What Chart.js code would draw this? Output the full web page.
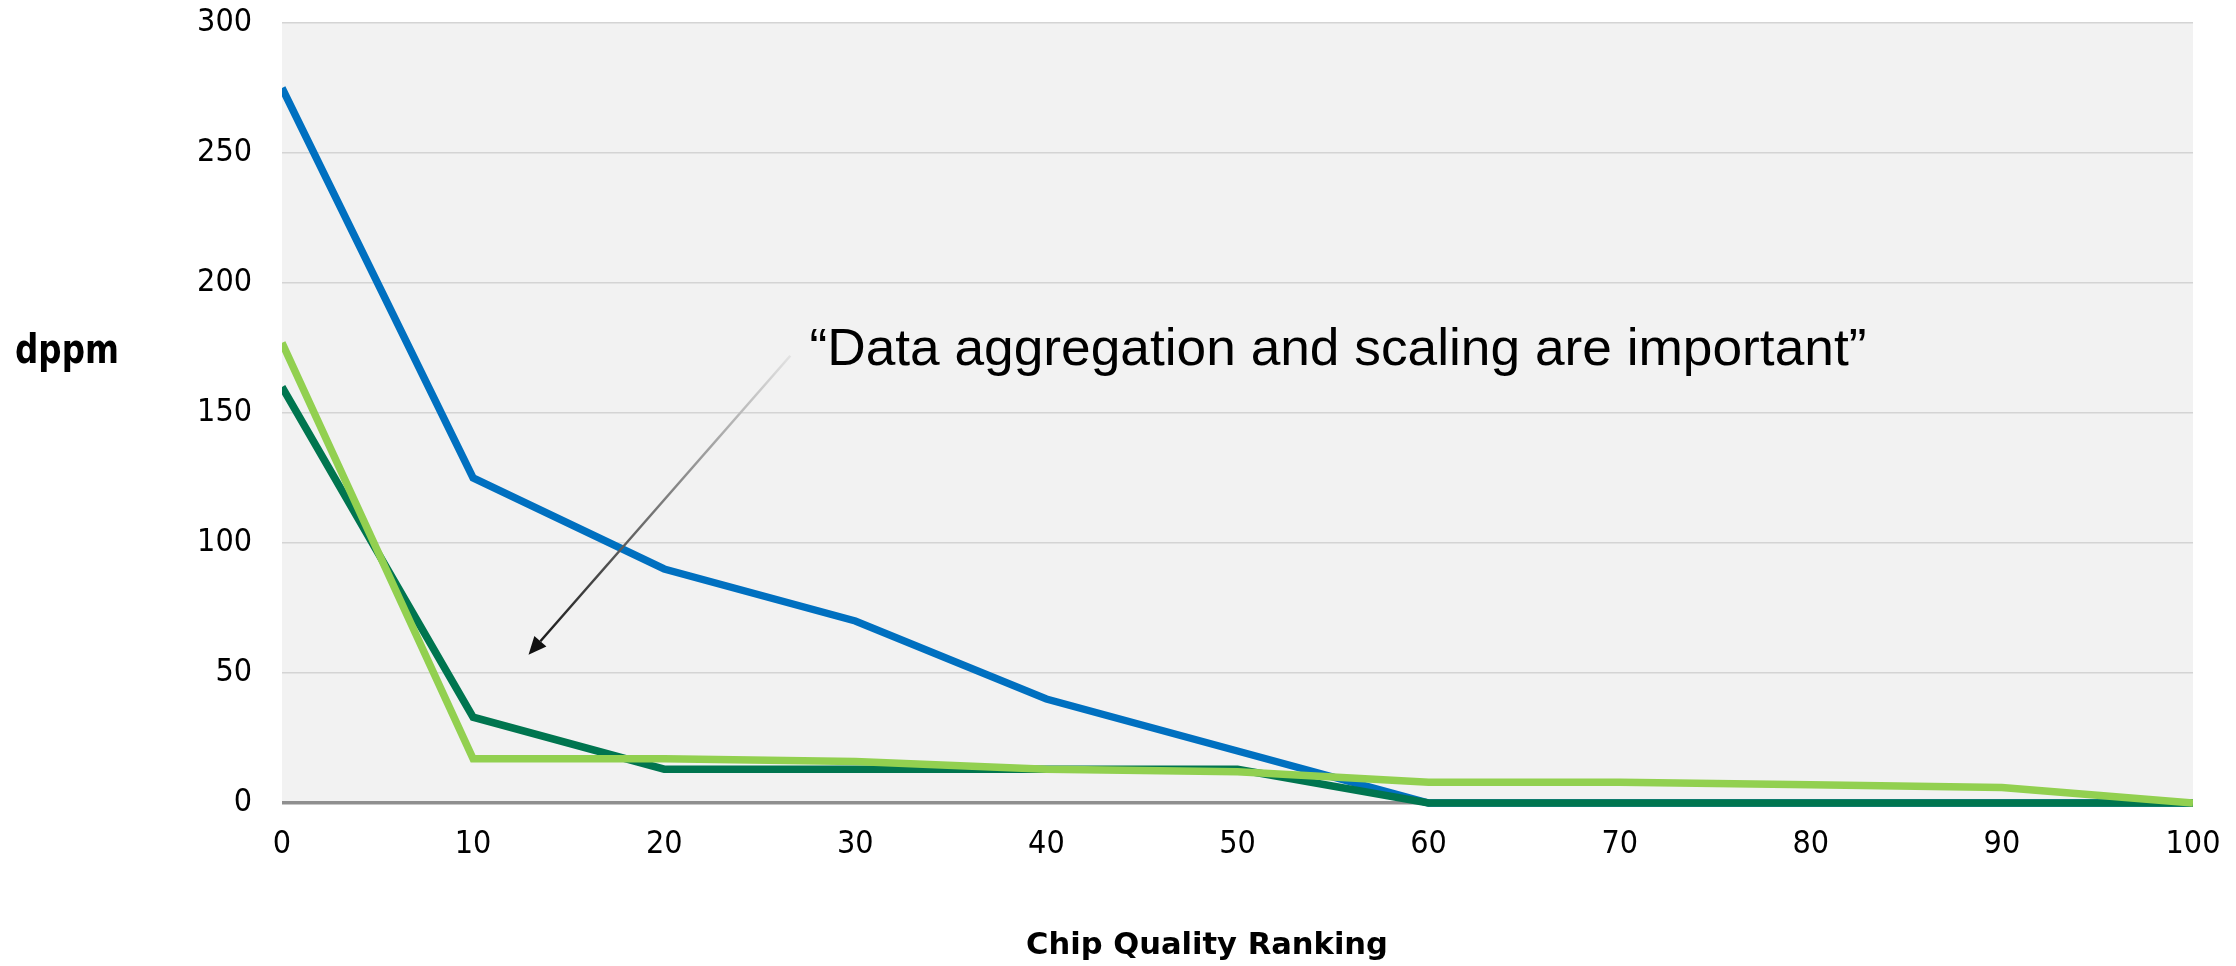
<!DOCTYPE html>
<html><head><meta charset="utf-8">
<script src="https://cdn.jsdelivr.net/npm/chart.js@4/dist/chart.umd.min.js"></script>
<style>html,body{margin:0;padding:0;background:#fff;overflow:hidden}#wrap{width:2236px;height:966px;position:relative}</style>
</head><body><div id="wrap"><canvas id="c" width="2236" height="966"></canvas></div>
<script>
// ---- data ----
const rankings = [0, 10, 20, 30, 40, 50, 60, 70, 80, 90, 100];
const seriesBlue = [275, 125, 90, 70, 40, 20, 0, 0, 0, 0, 0];
const seriesDarkGreen = [160, 33, 13, 13, 13, 13, 0, 0, 0, 0, 0];
const seriesLightGreen = [177, 17, 17, 16, 13, 12, 8, 8, 7, 6, 0];
const yTickValues = [0, 50, 100, 150, 200, 250, 300];
const xTickValues = [0, 10, 20, 30, 40, 50, 60, 70, 80, 90, 100];
const xTitle = 'Chip Quality Ranking';
const yTitle = 'dppm';
const noteText = '\u201CData aggregation and scaling are important\u201D';
// annotation anchor (data space): text start, arrow tail, arrow tip
const noteAt = [27.6, 168.6];
const arrowTail = [26.6, 172];
const arrowTip = [12.9, 57];

const TICK_FONT = "'DejaVu Sans Condensed', 'DejaVu Sans', sans-serif";
const TITLE_FONT = "'DejaVu Sans', sans-serif";
const toPts = arr => rankings.map((x, i) => ({x, y: arr[i]}));

const bgPlugin = {
  id: 'bg',
  beforeDraw(chart) {
    const {ctx, chartArea: a} = chart;
    ctx.save();
    ctx.fillStyle = '#f2f2f2';
    ctx.fillRect(a.left, a.top, a.right - a.left, a.bottom - a.top);
    ctx.restore();
  }
};

function fitText(ctx, text, font, x, y, targetWidth, align) {
  ctx.save();
  ctx.font = font;
  const w = ctx.measureText(text).width;
  const sx = targetWidth / w;
  const left = align === 'center' ? x - targetWidth / 2 : x;
  ctx.translate(left, y);
  ctx.scale(sx, 1);
  ctx.textAlign = 'left';
  ctx.textBaseline = 'alphabetic';
  ctx.fillStyle = '#000';
  ctx.fillText(text, 0, 0);
  ctx.restore();
}

const notePlugin = {
  id: 'note',
  afterDatasetsDraw(chart) {
    const {ctx, scales: {x, y}} = chart;
    ctx.save();
    const x0 = x.getPixelForValue(arrowTail[0]), y0 = y.getPixelForValue(arrowTail[1]);
    const x1 = x.getPixelForValue(arrowTip[0]), y1 = y.getPixelForValue(arrowTip[1]);
    const g = ctx.createLinearGradient(x0, y0, x1, y1);
    g.addColorStop(0, '#e2e2e2');
    g.addColorStop(1, '#111111');
    const ang = Math.atan2(y1 - y0, x1 - x0);
    const hl = 18, hw = 8;
    const bx = x1 - hl * Math.cos(ang), by = y1 - hl * Math.sin(ang);
    ctx.strokeStyle = g;
    ctx.lineWidth = 2.5;
    ctx.beginPath(); ctx.moveTo(x0, y0); ctx.lineTo(bx, by); ctx.stroke();
    ctx.fillStyle = '#111';
    ctx.beginPath();
    ctx.moveTo(x1, y1);
    ctx.lineTo(bx + hw * Math.sin(ang), by - hw * Math.cos(ang));
    ctx.lineTo(bx - hw * Math.sin(ang), by + hw * Math.cos(ang));
    ctx.closePath(); ctx.fill();
    ctx.restore();
    fitText(ctx, noteText, "52px 'Liberation Sans', Arial, sans-serif",
      x.getPixelForValue(noteAt[0]), y.getPixelForValue(noteAt[1]), 1057, 'left');
  },
  afterDraw(chart) {
    const {ctx} = chart;
    fitText(ctx, xTitle, "bold 30px " + TITLE_FONT, 1207, 954, 362, 'center');
    fitText(ctx, yTitle, "bold 41px " + TITLE_FONT, 15, 363, 104, 'left');
  }
};

const clipSides = {left: 0, top: false, right: 0, bottom: false};

new Chart(document.getElementById('c'), {
  type: 'line',
  data: {
    datasets: [
      {label: 'A', data: toPts(seriesBlue), borderColor: '#0070C0', borderWidth: 7.5, order: 3, clip: clipSides},
      {label: 'B', data: toPts(seriesDarkGreen), borderColor: '#00754F', borderWidth: 7.5, order: 2, clip: clipSides},
      {label: 'C', data: toPts(seriesLightGreen), borderColor: '#92D050', borderWidth: 7.5, order: 1, clip: clipSides}
    ]
  },
  options: {
    responsive: false,
    animation: false,
    devicePixelRatio: 1,
    layout: {padding: {left: 0, top: 23, right: 43, bottom: 0}},
    elements: {point: {radius: 0, hoverRadius: 0}, line: {tension: 0, borderJoinStyle: 'miter', borderCapStyle: 'butt'}},
    plugins: {legend: {display: false}, tooltip: {enabled: false}},
    scales: {
      x: {
        type: 'linear', min: 0, max: 100,
        afterBuildTicks: s => { s.ticks = xTickValues.map(v => ({value: v})); },
        afterFit: s => { s.height = 163; s.paddingLeft = 0; s.paddingRight = 0; },
        grid: {display: false, drawTicks: false},
        border: {display: false},
        ticks: {color: '#000', padding: 22, maxRotation: 0, font: {family: TICK_FONT, size: 32}}
      },
      y: {
        min: 0, max: 300,
        afterBuildTicks: s => { s.ticks = yTickValues.map(v => ({value: v})); },
        afterFit: s => { s.width = 282; s.paddingTop = 0; s.paddingBottom = 0; },
        grid: {
          drawTicks: false,
          color: c => c.tick && c.tick.value === 0 ? '#8f8f8f' : '#d4d4d4',
          lineWidth: c => c.tick && c.tick.value === 0 ? 3.5 : 1.5
        },
        border: {display: false},
        ticks: {color: '#000', padding: 30, font: {family: TICK_FONT, size: 32}}
      }
    }
  },
  plugins: [bgPlugin, notePlugin]
});
</script></body></html>
